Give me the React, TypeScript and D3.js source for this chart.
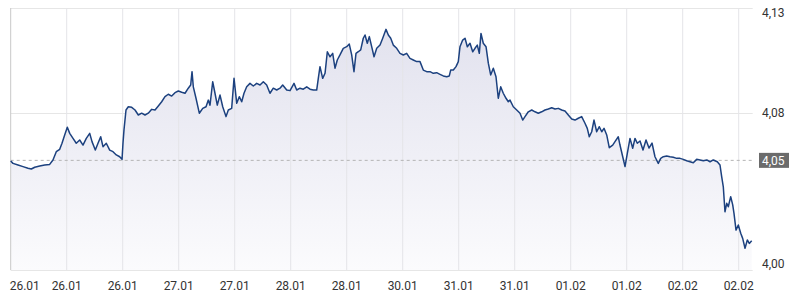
import React from "react";
import * as d3 from "d3";

// position along the (trading-time) x axis, in tick-interval units
const T = [0,0.041,0.130,0.220,0.309,0.368,0.429,0.518,0.607,0.696,0.755,0.814,0.875,0.916,0.964,1.011,1.054,1.113,1.171,1.232,1.291,1.350,1.411,1.452,1.511,1.559,1.607,1.648,1.707,1.768,1.827,1.886,1.946,1.988,2.005,2.023,2.059,2.100,2.161,2.220,2.279,2.339,2.398,2.457,2.518,2.577,2.636,2.696,2.755,2.814,2.875,2.934,2.993,3.054,3.113,3.171,3.214,3.238,3.261,3.309,3.368,3.429,3.488,3.529,3.559,3.607,3.648,3.689,3.738,3.786,3.845,3.886,3.946,3.988,4.036,4.082,4.125,4.166,4.214,4.273,4.332,4.393,4.452,4.511,4.571,4.630,4.689,4.750,4.809,4.857,4.929,4.988,5.059,5.107,5.166,5.225,5.286,5.345,5.404,5.464,5.493,5.523,5.571,5.613,5.654,5.702,5.750,5.791,5.832,5.880,5.939,6.000,6.046,6.089,6.130,6.166,6.207,6.250,6.296,6.327,6.368,6.404,6.446,6.488,6.536,6.595,6.643,6.702,6.743,6.786,6.832,6.893,6.952,7.011,7.071,7.130,7.189,7.250,7.309,7.368,7.429,7.488,7.546,7.607,7.666,7.725,7.786,7.832,7.857,7.904,7.952,7.993,8.023,8.071,8.113,8.154,8.202,8.250,8.291,8.332,8.368,8.398,8.439,8.488,8.529,8.571,8.618,8.666,8.707,8.750,8.796,8.845,8.886,8.916,8.975,9.036,9.095,9.143,9.184,9.243,9.304,9.363,9.421,9.482,9.541,9.600,9.661,9.720,9.779,9.839,9.898,9.957,10.018,10.077,10.136,10.196,10.255,10.296,10.332,10.375,10.416,10.464,10.511,10.554,10.595,10.643,10.689,10.750,10.791,10.850,10.880,10.929,10.970,11.011,11.059,11.107,11.148,11.189,11.238,11.291,11.345,11.398,11.452,11.505,11.564,11.607,11.654,11.714,11.773,11.832,11.893,11.952,12.011,12.071,12.130,12.189,12.250,12.309,12.368,12.429,12.488,12.546,12.618,12.666,12.696,12.725,12.755,12.786,12.814,12.857,12.893,12.916,12.952,12.993,13.036,13.071,13.113,13.154,13.189,13.232];

const PRICE = [4.0541,4.0529,4.0521,4.0513,4.0505,4.0501,4.0510,4.0516,4.0521,4.0524,4.0546,4.0587,4.0599,4.0629,4.0670,4.0708,4.0678,4.0653,4.0629,4.0645,4.0620,4.0653,4.0678,4.0637,4.0595,4.0629,4.0661,4.0612,4.0629,4.0595,4.0587,4.0571,4.0562,4.0549,4.0629,4.0695,4.0794,4.0810,4.0807,4.0794,4.0769,4.0778,4.0769,4.0778,4.0797,4.0794,4.0814,4.0835,4.0860,4.0872,4.0863,4.0880,4.0888,4.0882,4.0877,4.0902,4.0918,4.0984,4.0909,4.0852,4.0778,4.0802,4.0810,4.0843,4.0818,4.0934,4.0877,4.0818,4.0868,4.0810,4.0761,4.0794,4.0802,4.0951,4.0827,4.0860,4.0835,4.0877,4.0909,4.0926,4.0913,4.0926,4.0918,4.0934,4.0918,4.0877,4.0902,4.0893,4.0902,4.0918,4.0893,4.0890,4.0926,4.0893,4.0902,4.0897,4.0909,4.0897,4.0893,4.0893,4.0951,4.1009,4.0951,4.0976,4.1083,4.1058,4.1075,4.1001,4.1042,4.1067,4.1100,4.1108,4.1121,4.1067,4.0984,4.1075,4.1083,4.1092,4.1150,4.1166,4.1125,4.1158,4.1108,4.1058,4.1100,4.1116,4.1150,4.1194,4.1166,4.1150,4.1116,4.1100,4.1075,4.1067,4.1075,4.1050,4.1042,4.1034,4.1034,4.0992,4.0984,4.0984,4.0976,4.0979,4.0971,4.0963,4.0959,4.0963,4.0992,4.0992,4.1009,4.1034,4.1108,4.1141,4.1150,4.1108,4.1125,4.1083,4.1100,4.1116,4.1075,4.1174,4.1125,4.1108,4.1026,4.0968,4.1001,4.0959,4.0852,4.0909,4.0877,4.0852,4.0835,4.0843,4.0810,4.0794,4.0778,4.0744,4.0761,4.0785,4.0794,4.0785,4.0778,4.0785,4.0794,4.0799,4.0805,4.0799,4.0802,4.0794,4.0789,4.0769,4.0749,4.0744,4.0753,4.0761,4.0728,4.0703,4.0661,4.0686,4.0744,4.0686,4.0711,4.0686,4.0703,4.0670,4.0607,4.0620,4.0637,4.0661,4.0620,4.0562,4.0513,4.0579,4.0653,4.0604,4.0653,4.0629,4.0640,4.0595,4.0645,4.0605,4.0630,4.0562,4.0529,4.0554,4.0562,4.0566,4.0562,4.0559,4.0554,4.0554,4.0549,4.0542,4.0537,4.0532,4.0549,4.0546,4.0542,4.0546,4.0537,4.0546,4.0537,4.0521,4.0463,4.0413,4.0289,4.0331,4.0314,4.0364,4.0323,4.0281,4.0198,4.0223,4.0182,4.0157,4.0108,4.0149,4.0132,4.0145];

const X_TICK_LABELS = ["26.01","26.01","26.01","27.01","27.01","28.01","28.01","30.01","31.01","31.01","01.02","01.02","02.02","02.02"];
const Y_TICKS = [4.13, 4.078, 4.0];
const PREV_CLOSE = 4.0544;

const W = 801, H = 308;
const L = 10.7, R = 752.7, TOP = 8, BOT = 270;
const FONT = "Roboto, 'Noto Sans', sans-serif";

export default function App() {
  const x = d3.scaleLinear().domain([0, 13.25]).range([L, R]);
  const y = d3.scaleLinear().domain([4.0, 4.13]).range([BOT, TOP]);
  const data = T.map((t, i) => ({ t, v: PRICE[i] }));
  const line = d3.line<any>().x(d => x(d.t)).y(d => y(d.v));
  const area = d3.area<any>().x(d => x(d.t)).y0(BOT).y1(d => y(d.v));
  const fmt = (v: number) => v.toFixed(2).replace(".", ",");
  const tickIdx = d3.range(X_TICK_LABELS.length);

  return (
    <svg width={W} height={H} style={{ position: "absolute", left: 0, top: 0, background: "#fff" }}>
      <defs>
        <linearGradient id="fillg" gradientUnits="userSpaceOnUse" x1={0} y1={TOP} x2={0} y2={BOT}>
          <stop offset="0" stopColor="#e0e0ed" />
          <stop offset="1" stopColor="#fbfbfd" />
        </linearGradient>
      </defs>
      {Y_TICKS.map((v, i) => (
        <line key={"h" + i} x1={L} x2={R} y1={Math.round(y(v)) + 0.5} y2={Math.round(y(v)) + 0.5}
          stroke="#e6e6e6" strokeWidth={1} />
      ))}
      <path d={area(data) || ""} fill="url(#fillg)" />
      {tickIdx.slice(1).map(i => (
        <line key={"v" + i} x1={x(i)} x2={x(i)} y1={TOP} y2={BOT} stroke="#e4e4e8" strokeWidth={1} />
      ))}
      <line x1={L} x2={L} y1={TOP} y2={BOT} stroke="#c8c8c8" strokeWidth={1} />
      <line x1={L} x2={R} y1={y(PREV_CLOSE)} y2={y(PREV_CLOSE)} stroke="#b4b4b4" strokeWidth={1} strokeDasharray="3,3" />
      <path d={line(data) || ""} fill="none" stroke="#1c417f" strokeWidth={1.5} strokeLinejoin="round" />
      {tickIdx.map(i => (
        <text key={"xl" + i} x={i === 0 ? L - 1 : x(i)} y={290} fontFamily={FONT} fontSize={12}
          fill="#333" textAnchor={i === 0 ? "start" : "middle"}>{X_TICK_LABELS[i]}</text>
      ))}
      {Y_TICKS.map((v, i) => {
        const yy = i === 0 ? 13 : i === 2 ? 264 : y(v);
        return (
          <text key={"yl" + i} x={762} y={yy} dy="0.35em" fontFamily={FONT} fontSize={12} fill="#333">{fmt(v)}</text>
        );
      })}
      <rect x={759} y={y(PREV_CLOSE) - 7.5} width={30} height={15} fill="#6b6b6b" />
      <text x={762} y={y(PREV_CLOSE)} dy="0.35em" fontFamily={FONT} fontSize={12} fill="#fff">{fmt(PREV_CLOSE)}</text>
    </svg>
  );
}
